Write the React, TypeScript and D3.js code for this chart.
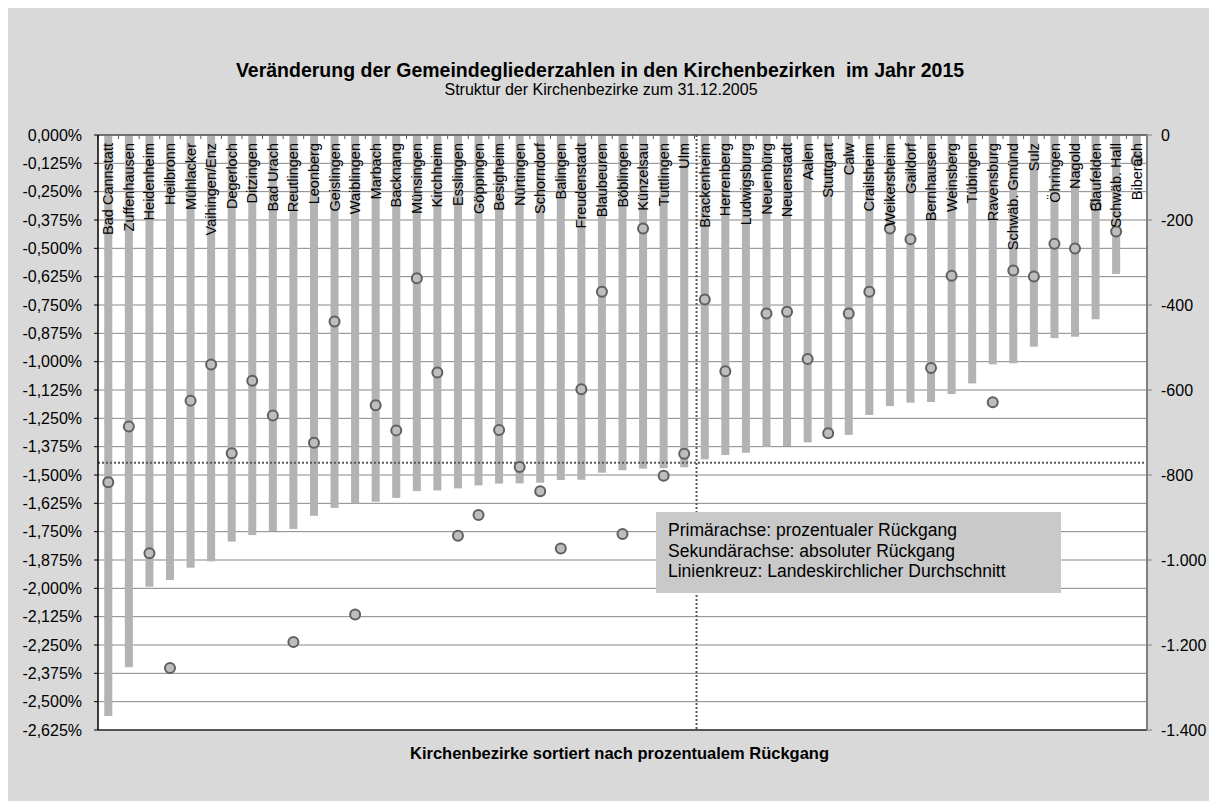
import React from "react";
import * as d3 from "d3";

// Kirchenbezirke, sorted by percentage decline
const districts = [
  "Bad Cannstatt", "Zuffenhausen", "Heidenheim", "Heilbronn", "Mühlacker",
  "Vaihingen/Enz", "Degerloch", "Ditzingen", "Bad Urach", "Reutlingen",
  "Leonberg", "Geislingen", "Waiblingen", "Marbach", "Backnang",
  "Münsingen", "Kirchheim", "Esslingen", "Göppingen", "Besigheim",
  "Nürtingen", "Schorndorf", "Balingen", "Freudenstadt", "Blaubeuren",
  "Böblingen", "Künzelsau", "Tuttlingen", "Ulm", "Brackenheim",
  "Herrenberg", "Ludwigsburg", "Neuenbürg", "Neuenstadt", "Aalen",
  "Stuttgart", "Calw", "Crailsheim", "Weikersheim", "Gaildorf",
  "Bernhausen", "Weinsberg", "Tübingen", "Ravensburg", "Schwäb. Gmünd",
  "Sulz", "Öhringen", "Nagold", "Blaufelden", "Schwäb. Hall", "Biberach",
];

// primary axis: percentage change (%)
const pctChange = [
  -2.563, -2.348, -1.993, -1.963, -1.909,
  -1.881, -1.794, -1.765, -1.747, -1.738,
  -1.68, -1.645, -1.625, -1.618, -1.601,
  -1.571, -1.568, -1.559, -1.546, -1.538,
  -1.537, -1.534, -1.522, -1.521, -1.49,
  -1.479, -1.472, -1.47, -1.466, -1.431,
  -1.412, -1.402, -1.376, -1.372, -1.356,
  -1.335, -1.323, -1.235, -1.196, -1.181,
  -1.178, -1.143, -1.096, -1.012, -1.007,
  -0.934, -0.896, -0.89, -0.813, -0.613, -0.105,
];

// secondary axis: absolute change (members), null = outside the axis range
const absChange = [
  -817, -686, -984, -1254, -625,
  -540, -749, -578, -660, -1193,
  -724, -439, -1128, -636, -695,
  -337, -559, -943, -894, -694,
  -781, -838, -973, -598, -369,
  -939, -220, -802, -750, -387,
  -556, null, -420, -416, -527,
  -702, -420, -369, -220, -245,
  -548, -331, null, -629, -319,
  -333, -256, -267, -165, -227, -60,
];

const pctTicks = d3.range(0, 22).map((i) => -i * 0.125);
const absTicks = [0, -200, -400, -600, -800, -1000, -1200, -1400];

// Landeskirchlicher Durchschnitt
const avgPct = -1.446;
const avgRank = 29.1;

const title = "Veränderung der Gemeindegliederzahlen in den Kirchenbezirken  im Jahr 2015";
const subtitle = "Struktur der Kirchenbezirke zum 31.12.2005";
const xTitle = "Kirchenbezirke sortiert nach prozentualem Rückgang";
const legendLines = [
  "Primärachse: prozentualer Rückgang",
  "Sekundärachse: absoluter Rückgang",
  "Linienkreuz: Landeskirchlicher Durchschnitt",
];

const FONT = "'Liberation Sans', Arial, sans-serif";

const de = d3.formatLocale({ decimal: ",", thousands: ".", grouping: [3], currency: ["", "€"], minus: "-" });
const fmtAbs = de.format(",d");
const fmtPct = (v: number) => (v === 0 ? "0,000%" : v.toFixed(3).replace(".", ",") + "%");

export default function App() {
  const left = 98, right = 1147, top = 135, bottom = 730;

  const x = d3.scaleBand<string>().domain(districts).range([left, right]).paddingInner(0.61).paddingOuter(0.305);
  const xRank = d3.scaleLinear().domain([0, districts.length]).range([left, right]);
  const y = d3.scaleLinear().domain([0, -2.625]).range([top, bottom]);
  const y2 = d3.scaleLinear().domain([0, -1400]).range([top, bottom]);

  const bw = x.bandwidth();
  const cx = (d: string) => (x(d) as number) + bw / 2;

  return (
    <svg width={1201} height={793} style={{ display: "block" }}>
      <g transform="translate(-8,-8)">
        <rect x={8} y={8} width={1201} height={793} fill="#d9d9d9" />
        <text x={600} y={77} textAnchor="middle" fontFamily={FONT} fontSize={19.5} fontWeight="bold" style={{ whiteSpace: "pre" }}>
          {title}
        </text>
        <text x={601} y={95} textAnchor="middle" fontFamily={FONT} fontSize={16}>
          {subtitle}
        </text>

        <rect x={left} y={top} width={right - left} height={bottom - top} fill="#ffffff" />

        {pctTicks.map((t) => (
          <line key={"g" + t} x1={left} x2={right} y1={y(t)} y2={y(t)} stroke="#878787" strokeWidth={1} />
        ))}

        {districts.map((d, i) => (
          <rect key={"b" + d} x={x(d)} y={y(0)} width={bw} height={y(pctChange[i]) - y(0)} fill="#b3b3b3" />
        ))}

        <line x1={left} x2={right} y1={y(avgPct)} y2={y(avgPct)} stroke="#595959" strokeWidth={2} strokeDasharray="2,2" />
        <line x1={xRank(avgRank)} x2={xRank(avgRank)} y1={top} y2={bottom} stroke="#595959" strokeWidth={2} strokeDasharray="2,2" />

        {districts.map((d, i) =>
          absChange[i] == null ? null : (
            <circle key={"c" + d} cx={cx(d)} cy={y2(absChange[i] as number)} r={5} fill="#bdbdbd" stroke="#606060" strokeWidth={2} />
          )
        )}

        {districts.map((d) => (
          <text
            key={"l" + d}
            transform={`translate(${cx(d)},${top + 8}) rotate(-90)`}
            textAnchor="end"
            dy="0.35em"
            fontFamily={FONT}
            fontSize={14.5}
            fill="#000"
          >
            {d}
          </text>
        ))}

        {/* category axis at the top */}
        <line x1={left} x2={right} y1={top} y2={top} stroke="#595959" strokeWidth={1.5} />
        {d3.range(0, districts.length + 1).map((i) => (
          <line key={"t" + i} x1={xRank(i)} x2={xRank(i)} y1={top} y2={top + 4} stroke="#595959" strokeWidth={1} />
        ))}
        <line x1={left} x2={right} y1={bottom} y2={bottom} stroke="#333" strokeWidth={1.5} />

        {/* primary axis */}
        <line x1={left} x2={left} y1={top} y2={bottom} stroke="#000" strokeWidth={1.5} />
        {pctTicks.map((t) => (
          <g key={"p" + t}>
            <line x1={left - 4} x2={left} y1={y(t)} y2={y(t)} stroke="#000" strokeWidth={1} />
            <text x={82} y={y(t)} dy="0.35em" textAnchor="end" fontFamily={FONT} fontSize={16}>
              {fmtPct(t)}
            </text>
          </g>
        ))}

        {/* secondary axis */}
        <line x1={right} x2={right} y1={top} y2={bottom} stroke="#7f7f7f" strokeWidth={2} />
        {absTicks.map((t) => (
          <g key={"s" + t}>
            <line x1={right} x2={right + 5} y1={y2(t)} y2={y2(t)} stroke="#7f7f7f" strokeWidth={1} />
            <text x={1161} y={y2(t)} dy="0.35em" fontFamily={FONT} fontSize={16}>
              {fmtAbs(t)}
            </text>
          </g>
        ))}

        <text x={(left + right) / 2 - 3} y={759} textAnchor="middle" fontFamily={FONT} fontSize={16.5} fontWeight="bold">
          {xTitle}
        </text>

        <rect x={656} y={512} width={405} height={81} fill="#c9c9c9" />
        {legendLines.map((s, i) => (
          <text key={s} x={668} y={536 + i * 20.5} fontFamily={FONT} fontSize={17.5}>
            {s}
          </text>
        ))}
      </g>
    </svg>
  );
}
